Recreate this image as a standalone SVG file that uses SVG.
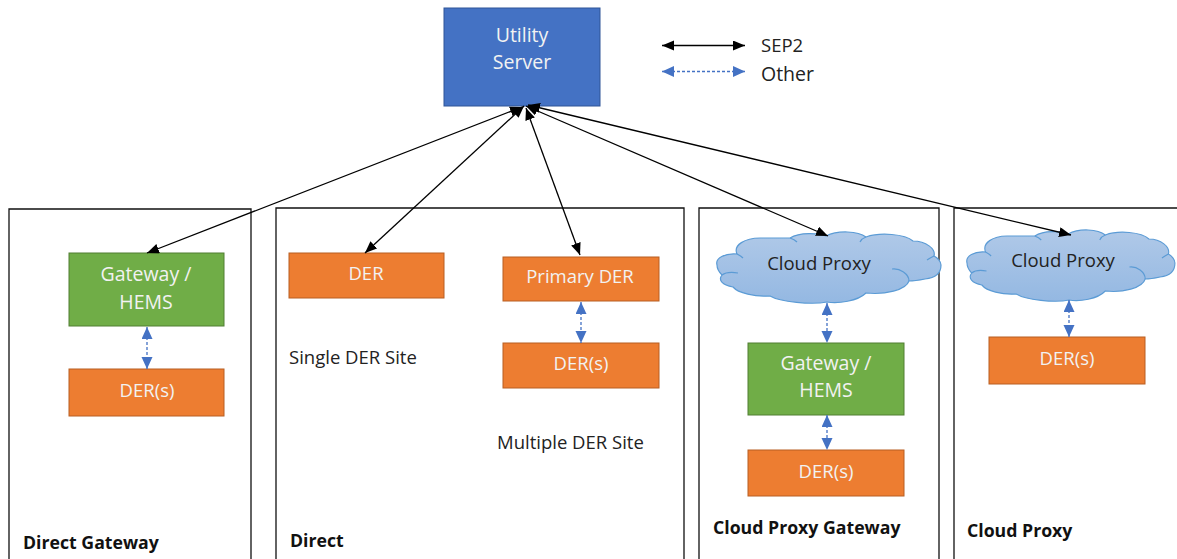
<svg xmlns="http://www.w3.org/2000/svg" width="1177" height="559" viewBox="0 0 1177 559">
<style>
text{font-family:"Open Sans","Noto Sans","Liberation Sans",sans-serif;font-size:18.500px;text-anchor:middle}
.w{fill:#f2f2f2}
.d{fill:#222}
.g{font-size:19.500px}
.l{text-anchor:start}
.b{font-weight:700;font-size:17.700px;fill:#111;text-anchor:start}
.frame{fill:none;stroke:#111;stroke-width:1.3}
.or{fill:#ed7d31;stroke:#b85f22;stroke-width:1}
.gr{fill:#70ad47;stroke:#507e32;stroke-width:1}
.bl{fill:#4472c4;stroke:#2f5597;stroke-width:1}
.cl{fill:url(#cg);stroke:#5b9bd5;stroke-width:1.200}
.cn{fill:none;stroke:#5b9bd5;stroke-width:1.200}
.sep{stroke:#000;stroke-width:1.300;fill:none;marker-start:url(#ka);marker-end:url(#ka)}
.oth{stroke:#4472c4;stroke-width:1.300;stroke-dasharray:3 2;fill:none;marker-start:url(#ba);marker-end:url(#ba)}
</style>
<defs>
<linearGradient id="cg" x1="0" y1="0" x2="0" y2="1"><stop offset="0" stop-color="#b0c9e8"/><stop offset="1" stop-color="#94b8e2"/></linearGradient>
<marker id="ka" markerUnits="userSpaceOnUse" markerWidth="14" markerHeight="12" refX="12" refY="5" orient="auto-start-reverse"><path d="M0,0L12,5L0,10z" fill="#000"/></marker>
<marker id="ba" markerUnits="userSpaceOnUse" markerWidth="14" markerHeight="12" refX="12" refY="5.500" orient="auto-start-reverse"><path d="M0,0L12,5.500L0,11z" fill="#4472c4"/></marker>
<g id="cloud">
<path class="cl" d="M717,265C715,258 725,253 737,254C733,245 745,238 760,238C768,238 775,238 790,238C800,232 818,233 826,236C838,230 858,231 866,237C880,232 905,234 913,241C926,241 936,249 934,256C938,258 941,262 941,265C941,273 935,278 925,279C915,281 912,281 909,281C906,290 885,295 866,293C858,301 838,304 827,302C812,305 780,302 770,296C755,297 738,293 733,287C722,285 718,280 722,275C720,273 717,270 717,265Z"/>
<path class="cn" d="M722,275C726,272 732,272 738,273M909,281C909,274 900,268 892,269M927,260C930,258 932,257 934,256M737,254C739,255 741,256 743,258M790,238C793,239 795,240 797,242M866,237C863,238 861,240 860,242"/>
</g>
</defs>
<g id="frames">
<path class="frame" d="M9,559V209H251V559"/>
<path class="frame" d="M276,559V208H684V559"/>
<path class="frame" d="M699,559V208H939V559"/>
<path class="frame" d="M954,559V208H1177"/>
</g>
<g id="utility-server"><rect class="bl" x="444" y="8" width="156" height="98"/><text class="w g" x="522" y="42">Utility</text><text class="w g" x="522" y="69">Server</text></g>
<g id="legend">
<path class="sep" d="M662,45.500H745"/><text class="d l" x="761" y="52">SEP2</text>
<path class="oth" d="M662,71.500H745"/><text class="d l g" x="761" y="81">Other</text>
</g>
<g id="gateway-1"><rect class="gr" x="69" y="253" width="155" height="73"/><text class="w g" x="146" y="281">Gateway /</text><text class="w g" x="146" y="309">HEMS</text></g>
<g id="der-1"><rect class="or" x="69" y="369" width="155" height="47"/><text class="w" x="147" y="397">DER(s)</text></g>
<g id="der-single"><rect class="or" x="289" y="253" width="155" height="45"/><text class="w" x="366" y="280">DER</text></g>
<g id="primary-der"><rect class="or" x="503" y="257" width="156" height="44"/><text class="w" x="580" y="283">Primary DER</text></g>
<g id="der-2"><rect class="or" x="503" y="343" width="156" height="45"/><text class="w" x="581" y="370">DER(s)</text></g>
<g id="cloud-1"><use href="#cloud"/><text class="d" x="819" y="270">Cloud Proxy</text></g>
<g id="gateway-2"><rect class="gr" x="748" y="343" width="156" height="72"/><text class="w g" x="826" y="370">Gateway /</text><text class="w g" x="826" y="397">HEMS</text></g>
<g id="der-3"><rect class="or" x="748" y="450" width="156" height="46"/><text class="w" x="826" y="478">DER(s)</text></g>
<g id="cloud-2"><use href="#cloud" transform="translate(967 -2) scale(.9283 1) translate(-717 0)"/><text class="d" x="1063" y="267">Cloud Proxy</text></g>
<g id="der-4"><rect class="or" x="989" y="337" width="156" height="47"/><text class="w" x="1067" y="365">DER(s)</text></g>
<g id="labels">
<text class="d l" x="289" y="364">Single DER Site</text>
<text class="d l" x="497" y="449">Multiple DER Site</text>
<text class="b" x="23" y="549">Direct Gateway</text>
<text class="b" x="290" y="547">Direct</text>
<text class="b" x="713" y="534">Cloud Proxy Gateway</text>
<text class="b" x="967" y="537">Cloud Proxy</text>
</g>
<g id="connectors">
<path class="sep" d="M522,107L147,253"/>
<path class="sep" d="M524,106L365,253"/>
<path class="sep" d="M526,108L580,255"/>
<path class="sep" d="M526,106L828,236"/>
<path class="sep" d="M528,105L1071,235"/>
<path class="oth" d="M147,327V369"/>
<path class="oth" d="M581,302V343"/>
<path class="oth" d="M827,303V343"/>
<path class="oth" d="M827,415V450"/>
<path class="oth" d="M1069,300V337"/>
</g>
</svg>
